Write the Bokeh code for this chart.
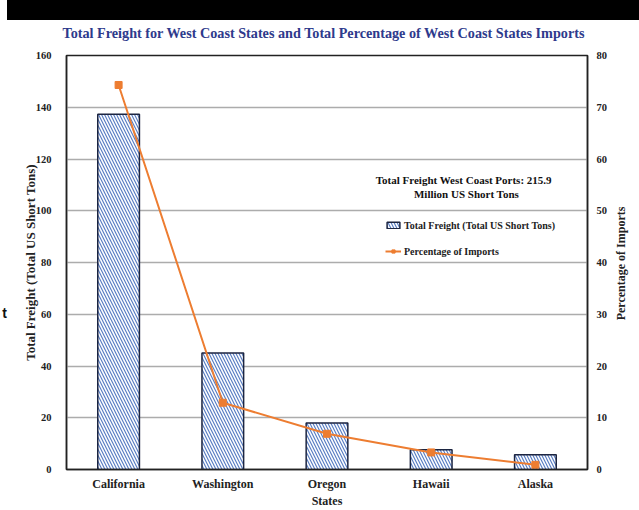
import math
from bokeh.plotting import figure
from bokeh.models import (Range1d, LinearAxis, FixedTicker, Legend, LegendItem,
                          Label, Div)
from bokeh.layouts import column, row
from bokeh.embed import file_html
from bokeh.resources import INLINE

states = ["California", "Washington", "Oregon", "Hawaii", "Alaska"]
freight = [137.3, 45.0, 18.0, 7.6, 5.7]
pct_imports = [74.3, 12.9, 6.9, 3.3, 0.9]
left_ticks = [0, 20, 40, 60, 80, 100, 120, 140, 160]
right_ticks = [0, 10, 20, 30, 40, 50, 60, 70, 80]
title_text = "Total Freight for West Coast States and Total Percentage of West Coast States Imports"
note_lines = ["Total Freight  West Coast Ports:  215.9", "Million US Short Tons"]
left_label = "Total Freight (Total US Short Tons)"
right_label = "Percentage of Imports"
x_label = "States"

SERIF = "Liberation Serif"
TOTAL_W = 639
LEFT_W, SIDE_W = 10, 25
MAIN_W = TOTAL_W - LEFT_W - SIDE_W
TITLE_H = 24
MAIN_H = 510 - 20 - TITLE_H


def blank_fig(w, h):
    f = figure(width=w, height=h, x_range=(0, 1), y_range=(0, 1),
               output_backend="svg", toolbar_location=None,
               x_axis_location=None, y_axis_location=None,
               min_border=0, margin=(0, 0, 0, 0))
    f.outline_line_color = None
    f.grid.visible = False
    return f


bar_div = Div(text="", width=TOTAL_W - 7, height=20,
              styles={"background-color": "black"}, margin=(0, 0, 0, 7))

# title strip
tf = blank_fig(TOTAL_W, TITLE_H)
tf.add_layout(Label(x=323.5, y=12, x_units="screen", y_units="screen",
                    text=title_text, text_align="center", text_baseline="middle",
                    text_font=SERIF, text_font_style="bold",
                    text_font_size="14.2px", text_color="#2E3A8C"))

# stray fragment on the left edge (frame of this strip is aligned with main frame)
lf = blank_fig(LEFT_W, MAIN_H)
lf.add_layout(Label(x=4, y=157, x_units="screen", y_units="screen",
                    text="t", text_align="center", text_baseline="middle",
                    text_font="Liberation Sans", text_font_style="bold",
                    text_font_size="14px", text_color="#111111"))

# right axis title strip
sf = blank_fig(SIDE_W, MAIN_H)
sf.add_layout(Label(x=6, y=206, x_units="screen", y_units="screen",
                    text=right_label, angle=math.pi / 2,
                    text_align="center", text_baseline="middle",
                    text_font=SERIF, text_font_style="bold",
                    text_font_size="12px", text_color="#222222"))

p = figure(width=MAIN_W, height=MAIN_H, x_range=states, y_range=Range1d(0, 160),
           output_backend="svg", toolbar_location=None,
           min_border_left=66 - LEFT_W, min_border_right=LEFT_W + MAIN_W - 587,
           min_border_top=55 - 20 - TITLE_H, min_border_bottom=40,
           margin=(0, 0, 0, 0))

p.outline_line_color = "#222222"
p.outline_line_width = 1.5
p.xgrid.grid_line_color = None
p.ygrid.grid_line_color = "#acacac"
p.ygrid.grid_line_width = 1.5

p.extra_y_ranges = {"pct": Range1d(0, 80)}

# left axis
ya = p.yaxis[0]
ya.ticker = FixedTicker(ticks=left_ticks)
ya.axis_label = left_label
ya.axis_label_text_font = SERIF
ya.axis_label_text_font_style = "bold"
ya.axis_label_text_font_size = "13px"
ya.axis_label_text_color = "#222222"
ya.axis_label_standoff = -5
ya.major_label_text_font = SERIF
ya.major_label_text_font_style = "bold"
ya.major_label_text_font_size = "10.5px"
ya.major_label_text_color = "#222222"
ya.major_label_standoff = 15
ya.major_tick_line_color = None
ya.minor_tick_line_color = None
ya.major_tick_out = 0
ya.major_tick_in = 0
ya.axis_line_color = "#222222"
ya.axis_line_width = 1.5

# right axis (ticks and labels)
ra = LinearAxis(y_range_name="pct", ticker=FixedTicker(ticks=right_ticks))
ra.major_label_text_font = SERIF
ra.major_label_text_font_style = "bold"
ra.major_label_text_font_size = "10.5px"
ra.major_label_text_color = "#222222"
ra.major_label_standoff = 9
ra.major_tick_line_color = None
ra.minor_tick_line_color = None
ra.major_tick_out = 0
ra.major_tick_in = 0
ra.axis_line_color = "#222222"
ra.axis_line_width = 1.5
p.add_layout(ra, "right")

# bottom axis
xa = p.xaxis[0]
xa.axis_label = x_label
xa.axis_label_text_font = SERIF
xa.axis_label_text_font_style = "bold"
xa.axis_label_text_font_size = "12px"
xa.axis_label_text_color = "#222222"
xa.axis_label_standoff = 0
xa.major_label_text_font = SERIF
xa.major_label_text_font_style = "bold"
xa.major_label_text_font_size = "12px"
xa.major_label_text_color = "#222222"
xa.major_label_standoff = 7
xa.major_tick_line_color = None
xa.major_tick_out = 0
xa.major_tick_in = 0
xa.axis_line_color = "#222222"
xa.axis_line_width = 1.5

bars = p.vbar(x=states, top=freight, width=0.4, bottom=0,
              fill_color="white", hatch_pattern="left_diagonal_line",
              hatch_color="#5B7FC4", hatch_scale=6, hatch_weight=1.2,
              line_color="#1c2541", line_width=1.5)

ln = p.line(x=states, y=pct_imports, y_range_name="pct",
            line_color="#ED7D31", line_width=2)
pts = p.scatter(x=states, y=pct_imports, y_range_name="pct", marker="square",
                size=7, fill_color="#ED7D31", line_color="#ED7D31")

legend = Legend(items=[LegendItem(label="Total Freight (Total US Short Tons)", renderers=[bars]),
                       LegendItem(label="Percentage of Imports", renderers=[ln, pts])],
                location=(319, 211), orientation="vertical",
                background_fill_alpha=0, border_line_color=None,
                padding=0, margin=0, spacing=12, label_height=14,
                glyph_height=8, glyph_width=16, label_standoff=3,
                label_text_font=SERIF, label_text_font_style="bold",
                label_text_font_size="10px", label_text_color="#222222")
p.add_layout(legend)

for txt, yv in zip(note_lines, [111.8, 106.4]):
    p.add_layout(Label(x=400, x_units="screen", y=yv, text=txt,
                       text_align="center", text_baseline="middle",
                       text_font=SERIF, text_font_style="bold",
                       text_font_size="11px", text_color="#111111"))

layout = column(bar_div, tf, row(lf, p, sf, spacing=0), spacing=0)
open("out.html", "w").write(file_html(layout, INLINE))
